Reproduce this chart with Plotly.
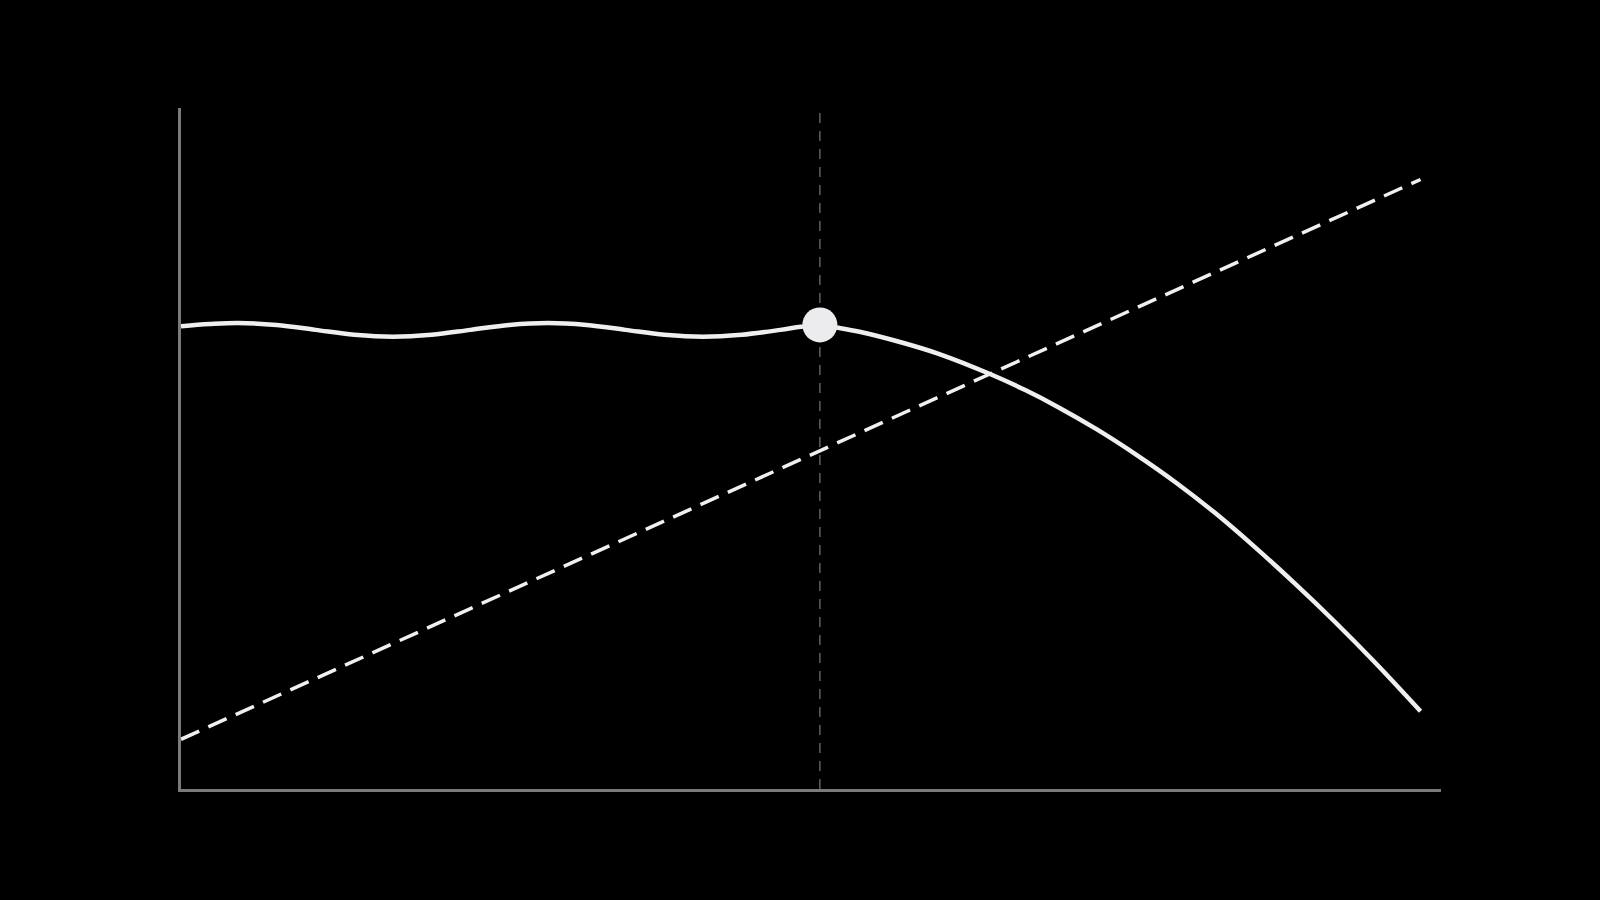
import plotly.graph_objects as go

# Solid curve (wavy plateau, then falling off after the highlighted point)
curve_x = [0, 2.30, 4.60, 7.73, 10.85, 13.98, 17.10, 20.23, 23.35, 26.48, 29.60,
           32.73, 35.86, 38.99, 42.11, 45.24, 48.36, 50.01, 51.54,
           52.89, 54.74, 57.93, 61.12, 65.27, 68.15, 70.70, 73.89, 77.08,
           80.28, 83.46, 86.66, 89.85, 93.04, 96.23, 100]
curve_y = [67.96, 68.27, 68.43, 68.14, 67.42, 66.71, 66.42, 66.71, 67.42, 68.14, 68.43,
           68.14, 67.42, 66.71, 66.42, 66.71, 67.42, 67.87, 68.16,
           67.77, 67.15, 65.68, 63.91, 60.94, 58.54, 56.14, 52.80, 49.07,
           44.98, 40.48, 35.48, 30.19, 24.63, 18.75, 11.41]

# Dashed rising straight line
trend_x = [0, 100]
trend_y = [7.3, 89.5]

# Highlighted point / threshold
point_x = [51.54]
point_y = [68.15]

x_range = [0, 101.65]
y_range = [0, 100]

fig = go.Figure()

fig.add_trace(go.Scatter(
    x=trend_x, y=trend_y, mode="lines",
    line=dict(color="#f0f0f0", width=3.5, dash="20px,10px"),
    hoverinfo="skip", showlegend=False,
))

fig.add_trace(go.Scatter(
    x=curve_x, y=curve_y, mode="lines",
    line=dict(color="#efefef", width=4.5, shape="spline", smoothing=1.0),
    hoverinfo="skip", showlegend=False,
))

fig.add_trace(go.Scatter(
    x=point_x, y=point_y, mode="markers",
    marker=dict(color="#ececee", size=35, line=dict(width=0)),
    hoverinfo="skip", showlegend=False,
))

fig.add_shape(
    type="line", xref="x", yref="paper",
    x0=point_x[0], x1=point_x[0], y0=0, y1=1,
    line=dict(color="#606060", width=1.5, dash="10px,8px"),
    layer="below",
)

fig.update_layout(
    width=1600, height=900,
    paper_bgcolor="#000000", plot_bgcolor="#000000",
    margin=dict(l=181, r=159, t=108, b=111),
    showlegend=False,
    xaxis=dict(range=x_range, showgrid=False, zeroline=False, showticklabels=False,
               ticks="", showline=True, linecolor="#7a7a7a", linewidth=3),
    yaxis=dict(range=y_range, showgrid=False, zeroline=False, showticklabels=False,
               ticks="", showline=True, linecolor="#7a7a7a", linewidth=3),
)

fig.write_html(
    "out.html",
    config={"displayModeBar": False},
    post_script="document.body.style.margin='0';document.body.style.background='#000';",
)
